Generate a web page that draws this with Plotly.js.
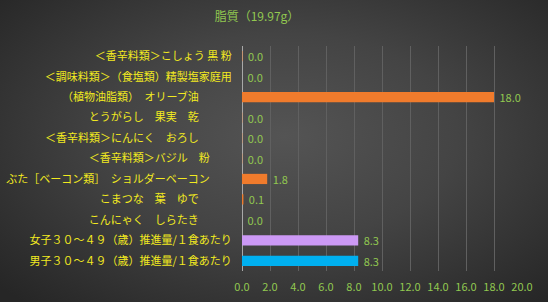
<!DOCTYPE html>
<html>
<head>
<meta charset="utf-8">
<script src="https://cdn.plot.ly/plotly-3.0.1.min.js"></script>
<style>
html,body{margin:0;padding:0;}
body{width:548px;height:302px;overflow:hidden;
background:radial-gradient(ellipse 70% 75% at 52% 45%, #545454 0%, #444 45%, #2e2e2e 85%, #262626 100%);}
#chart{width:548px;height:302px;}
</style>
</head>
<body>
<div id="chart"></div>
<script>
const categories = [
  "＜香辛料類＞こしょう 黒 粉",
  "＜調味料類＞（食塩類）精製塩家庭用",
  "（植物油脂類）　オリーブ油\u3000\u3000\u3000",
  "とうがらし　果実　乾\u3000\u3000\u3000",
  "＜香辛料類＞にんにく　おろし\u3000\u3000\u3000",
  "＜香辛料類＞バジル　粉\u3000\u3000",
  "ぶた［ベーコン類］　ショルダーベーコン\u3000\u3000",
  "こまつな　葉　ゆで\u3000\u3000\u3000",
  "こんにゃく　しらたき\u3000\u3000\u3000",
  "女子３０～４９（歳）推進量/１食あたり",
  "男子３０～４９（歳）推進量/１食あたり"
];
const values = [0.03, 0.0, 18.0, 0.02, 0.02, 0.02, 1.8, 0.1, 0.0, 8.3, 8.3];
const barColors = ["#F07B2C","#F07B2C","#F07B2C","#F07B2C","#F07B2C","#F07B2C","#F07B2C","#F07B2C","#F07B2C","#CC99F5","#00B0F0"];
const xTicks = [0,2,4,6,8,10,12,14,16,18,20];
const titleText = "脂質（19.97g）";

const green = "#92C850";
const font = "Noto Sans CJK JP, sans-serif";

Plotly.newPlot("chart", [{
  type: "bar",
  orientation: "h",
  y: categories,
  x: values,
  marker: {color: barColors},
  texttemplate: "\u00a0%{x:.1f}",
  textposition: "outside",
  constraintext: "none",
  textfont: {color: green, size: 11, family: font},
  cliponaxis: false,
  hoverinfo: "none"
}], {
  width: 548, height: 302,
  margin: {l: 242, r: 26, t: 46, b: 31},
  paper_bgcolor: "rgba(0,0,0,0)",
  plot_bgcolor: "rgba(0,0,0,0)",
  bargap: 0.5,
  showlegend: false,
  uniformtext: {mode: false},
  title: {text: titleText, font: {color: green, size: 12, family: font},
          x: 0.469, xanchor: "center", y: 0.944, yanchor: "middle", yref: "container"},
  xaxis: {
    range: [0, 20],
    tickvals: xTicks,
    ticktext: xTicks.map(v => v.toFixed(1)),
    showgrid: true, gridcolor: "#606060", gridwidth: 1,
    zeroline: true, zerolinecolor: "#a8a8a8", zerolinewidth: 1,
    showline: false,
    ticks: "outside", ticklen: 6, tickcolor: "rgba(0,0,0,0)",
    tickfont: {color: green, size: 11, family: font},
    fixedrange: true
  },
  yaxis: {
    autorange: "reversed",
    type: "category",
    showgrid: false, zeroline: false, showline: false,
    ticks: "outside", ticklen: 7, tickcolor: "rgba(0,0,0,0)",
    tickfont: {color: "#F2EA20", size: 11, family: font},
    fixedrange: true
  }
}, {displayModeBar: false, staticPlot: true});
</script>
</body>
</html>
